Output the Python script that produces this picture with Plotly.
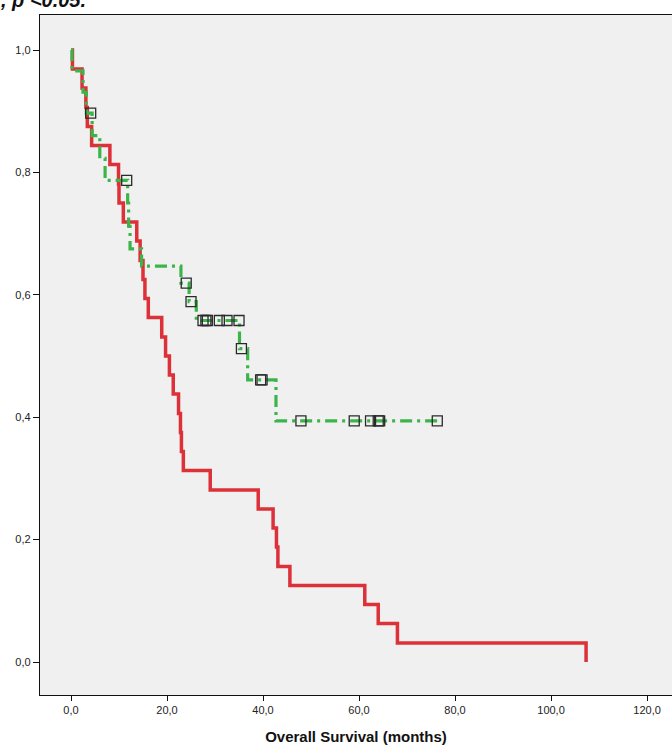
import plotly.graph_objects as go

# Kaplan-Meier estimates, read as (event time in months, survival after the event)
red_times = [0.3, 2.3, 3.1, 3.4, 4.3, 8.1, 9.9, 10.0, 10.9, 13.7, 14.4, 15.0, 15.4,
             16.1, 18.9, 19.7, 20.5, 21.3, 22.4, 22.8, 23.0, 23.4, 29.0, 39.0, 42.1,
             42.8, 43.1, 45.6, 61.2, 64.0, 68.0, 107.3]
red_surv = [0.969, 0.938, 0.906, 0.875, 0.844, 0.813, 0.781, 0.750, 0.719, 0.688,
            0.656, 0.625, 0.594, 0.563, 0.531, 0.500, 0.469, 0.438, 0.406, 0.375,
            0.344, 0.313, 0.281, 0.250, 0.219, 0.188, 0.156, 0.125, 0.094, 0.063,
            0.031, 0.000]

green_times = [0.2, 2.5, 3.2, 4.4, 6.0, 7.1, 11.8, 12.0, 12.3, 14.7, 22.9, 24.6,
               26.1, 35.1, 36.8, 42.7]
green_surv = [0.966, 0.931, 0.897, 0.860, 0.823, 0.787, 0.750, 0.712, 0.675, 0.647,
              0.619, 0.589, 0.558, 0.512, 0.461, 0.394]
green_end = 76.3

# censored observations (months)
green_censored = [4.1, 11.6, 24.0, 25.0, 27.5, 28.1, 28.4, 30.9, 32.5, 35.0, 35.5,
                  39.5, 39.8, 47.9, 59.0, 62.4, 64.0, 64.3, 76.3]

x_ticks = [0, 20, 40, 60, 80, 100, 120]
y_ticks = [0.0, 0.2, 0.4, 0.6, 0.8, 1.0]


def step_level(times, surv, t):
    level = 1.0
    for ti, si in zip(times, surv):
        if ti <= t:
            level = si
    return level


red_x = [0.0] + red_times
red_y = [1.0] + red_surv
green_x = [0.0] + green_times + [green_end]
green_y = [1.0] + green_surv + [green_surv[-1]]
cens_y = [step_level(green_times, green_surv, t) for t in green_censored]

RED = "#dc3139"
GREEN = "#3bb54a"

fig = go.Figure()
fig.add_trace(go.Scatter(x=red_x, y=red_y, mode="lines", line_shape="hv",
                         line=dict(color=RED, width=3.5), showlegend=False,
                         hoverinfo="skip"))
fig.add_trace(go.Scatter(x=green_x, y=green_y, mode="lines", line_shape="hv",
                         line=dict(color=GREEN, width=3.2, dash="12px,5px,3px,5px"),
                         showlegend=False, hoverinfo="skip"))
fig.add_trace(go.Scatter(x=green_censored, y=cens_y, mode="markers",
                         marker=dict(symbol="square-open", size=10,
                                     color="#2a2a2a", line=dict(width=1.3)),
                         showlegend=False, hoverinfo="skip"))

fig.add_annotation(text="<i><b>, p &lt;0.05.</b></i>", xref="paper", yref="paper",
                   x=-0.066, y=1.022, xanchor="left", yanchor="middle",
                   showarrow=False, font=dict(size=20, color="#111",
                                              family="Liberation Sans"))

fig.update_layout(
    width=672, height=749,
    margin=dict(l=40, r=0, t=15, b=54),
    paper_bgcolor="white",
    plot_bgcolor="#f0f0f0",
    separators=",.",
    font=dict(family="Liberation Sans", color="#222"),
    xaxis=dict(range=[-6.46, 125.2], tickvals=x_ticks, tickformat=".1f",
               showgrid=False, zeroline=False, showline=True, mirror=True,
               linecolor="#111", linewidth=1.3, ticks="outside", ticklen=5,
               tickcolor="#111", tickfont=dict(size=11, color="#222"),
               title=dict(text="<b>Overall Survival (months)</b>",
                          font=dict(size=15, color="#111"), standoff=16)),
    yaxis=dict(range=[-0.0539, 1.0572], tickvals=y_ticks, tickformat=".1f",
               showgrid=False, zeroline=False, showline=True,
               linecolor="#111", linewidth=1.3, ticks="outside", ticklen=6,
               tickcolor="#111", tickfont=dict(size=11, color="#222")),
)

fig.write_html("out.html")
